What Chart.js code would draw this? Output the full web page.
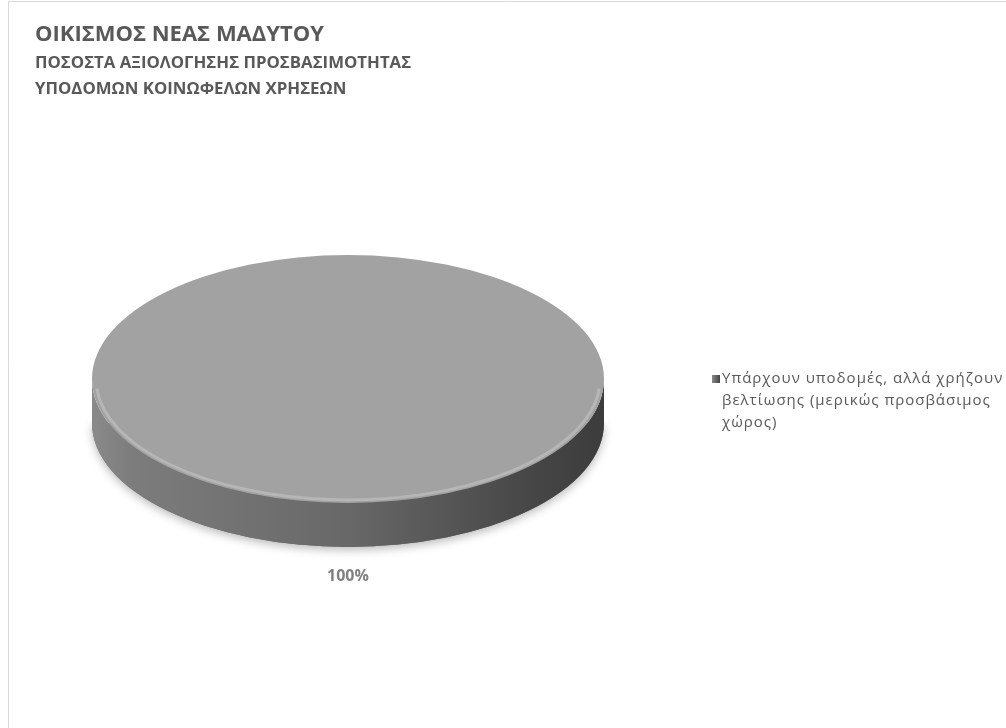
<!DOCTYPE html>
<html>
<head>
<meta charset="utf-8">
<script src="https://cdn.jsdelivr.net/npm/chart.js@4.4.1/dist/chart.umd.min.js"></script>
<style>
  html, body { margin: 0; padding: 0; background: #fff; }
  #wrap { width: 1006px; height: 728px; }
</style>
</head>
<body>
<div id="wrap"><canvas id="accessChart" width="1006" height="728"></canvas></div>
<script>
// data
const titleText = 'ΟΙΚΙΣΜΟΣ ΝΕΑΣ ΜΑΔΥΤΟΥ';
const subtitleLines = ['ΠΟΣΟΣΤΑ ΑΞΙΟΛΟΓΗΣΗΣ ΠΡΟΣΒΑΣΙΜΟΤΗΤΑΣ', 'ΥΠΟΔΟΜΩΝ ΚΟΙΝΩΦΕΛΩΝ ΧΡΗΣΕΩΝ'];
const categories = ['Υπάρχουν υποδομές, αλλά χρήζουν βελτίωσης (μερικώς προσβάσιμος χώρος)'];
const shares = [100];

const topColors = ['#a2a2a2'];
const FONT = "'Open Sans', 'DejaVu Sans', sans-serif";
const TILT = 0.484;   // vertical squash of the pie
const DEPTH = 44;     // thickness of the disc

// put the pie where the original plot area is
const pieArea = {
    id: 'pieArea',
    afterLayout(chart) {
        const a = chart.chartArea;
        a.left = 92; a.right = 604; a.top = 123; a.bottom = 635;
        a.width = a.right - a.left;
        a.height = a.bottom - a.top;
    }
};

// visible part of an arc on the front half (0..PI)
function frontParts(s, e) {
    const parts = [];
    for (let k = -1; k <= 1; k++) {
        const lo = Math.max(s, 2 * Math.PI * k), hi = Math.min(e, 2 * Math.PI * k + Math.PI);
        if (hi > lo) parts.push([lo, hi]);
    }
    return parts;
}

const pie3d = {
    id: 'pie3d',
    beforeDatasetsDraw(chart) {
        const ctx = chart.ctx;
        const arcs = chart.getDatasetMeta(0).data;
        const cx = arcs[0].x, cy = arcs[0].y;

        arcs.forEach(arc => {
            const rx = arc.outerRadius, ry = rx * TILT;
            // soft shadow under the disc
            ctx.save();
            ctx.shadowColor = 'rgba(0,0,0,0.28)';
            ctx.shadowBlur = 10;
            ctx.shadowOffsetY = 3;
            ctx.fillStyle = '#6a6a6a';
            ctx.beginPath();
            ctx.ellipse(cx, cy + DEPTH, rx, ry, 0, 0, Math.PI);
            ctx.closePath();
            ctx.fill();
            ctx.restore();

            const grad = ctx.createLinearGradient(cx - rx, 0, cx + rx, 0);
            grad.addColorStop(0, '#8a8a8a');
            grad.addColorStop(0.08, '#7c7c7c');
            grad.addColorStop(0.5, '#686868');
            grad.addColorStop(0.85, '#474747');
            grad.addColorStop(1, '#3c3c3c');

            frontParts(arc.startAngle, arc.endAngle).forEach(([a0, a1]) => {
                ctx.beginPath();
                ctx.ellipse(cx, cy, rx, ry, 0, a0, a1);
                ctx.ellipse(cx, cy + DEPTH, rx, ry, 0, a1, a0, true);
                ctx.closePath();
                ctx.fillStyle = grad;
                ctx.fill();
            });
        });

        // squash the top face
        ctx.save();
        ctx.translate(cx, cy);
        ctx.scale(1, TILT);
        ctx.translate(-cx, -cy);
    },
    afterDatasetsDraw(chart) {
        const ctx = chart.ctx;
        ctx.restore();

        const arcs = chart.getDatasetMeta(0).data;
        const values = chart.data.datasets[0].data;
        const total = values.reduce((s, v) => s + v, 0);

        arcs.forEach((arc, i) => {
            const rx = arc.outerRadius, ry = rx * TILT;
            // bevel highlight along the front rim
            ctx.save();
            ctx.lineWidth = 3;
            ctx.strokeStyle = 'rgba(255,255,255,0.22)';
            frontParts(arc.startAngle, arc.endAngle).forEach(([a0, a1]) => {
                ctx.beginPath();
                ctx.ellipse(arc.x, arc.y, rx - 4, ry - 3, 0, a0 + 0.08, a1 - 0.08);
                ctx.stroke();
            });
            ctx.restore();

            // percent label outside end
            const mid = (arc.startAngle + arc.endAngle) / 2;
            const lx = arc.x + Math.cos(mid) * (rx + 30);
            const ly = arc.y + Math.sin(mid) * (ry + 30) + (Math.sin(mid) > 0 ? DEPTH : 0);
            ctx.save();
            ctx.font = 'bold 16px ' + FONT;
            ctx.fillStyle = '#808080';
            ctx.textAlign = 'center';
            ctx.textBaseline = 'middle';
            ctx.fillText(Math.round(values[i] / total * 100) + '%', lx, ly);
            ctx.restore();
        });
    },
    afterDraw(chart) {
        const ctx = chart.ctx;
        // chart frame (left and top edge visible)
        ctx.save();
        ctx.strokeStyle = '#d9d9d9';
        ctx.lineWidth = 1;
        ctx.beginPath();
        ctx.moveTo(8.5, 728);
        ctx.lineTo(8.5, 1.5);
        ctx.lineTo(1006, 1.5);
        ctx.stroke();

        // legend with wrapped text
        const maxW = 284;
        const x0 = 722, lineH = 22;
        ctx.font = '15px ' + FONT;
        ctx.letterSpacing = '1px';
        ctx.textBaseline = 'middle';
        chart.data.labels.forEach((label, i) => {
            const words = label.split(' ');
            const lines = [];
            let cur = '';
            words.forEach(w => {
                const t = cur ? cur + ' ' + w : w;
                if (ctx.measureText(t).width > maxW && cur) { lines.push(cur); cur = w; }
                else cur = t;
            });
            if (cur) lines.push(cur);
            const y0 = 379;
            const mg = ctx.createLinearGradient(x0 - 10, 0, x0 - 2, 0);
            mg.addColorStop(0, '#8a8a8a');
            mg.addColorStop(1, '#444');
            ctx.fillStyle = mg;
            ctx.fillRect(x0 - 10, y0 - 4, 8, 8);
            ctx.fillStyle = '#595959';
            lines.forEach((ln, j) => ctx.fillText(ln, x0, y0 + j * lineH));
        });
        ctx.restore();
    }
};

new Chart(document.getElementById('accessChart'), {
    type: 'pie',
    data: {
        labels: categories,
        datasets: [{
            data: shares,
            backgroundColor: topColors,
            borderWidth: 0
        }]
    },
    options: {
        responsive: false,
        animation: false,
        events: [],
        layout: { padding: { left: 35, right: 0, top: 0, bottom: 0 } },
        plugins: {
            legend: { display: false },
            tooltip: { enabled: false },
            title: {
                display: true,
                text: titleText,
                align: 'start',
                color: '#595959',
                font: { family: FONT, size: 22, weight: 'bold', lineHeight: 1.2 },
                padding: { top: 22, bottom: 0 }
            },
            subtitle: {
                display: true,
                text: subtitleLines,
                align: 'start',
                color: '#595959',
                font: { family: FONT, size: 16.8, weight: 'bold', lineHeight: 1.6 },
                padding: { top: 1, bottom: 10 }
            }
        }
    },
    plugins: [pieArea, pie3d]
});
</script>
</body>
</html>
